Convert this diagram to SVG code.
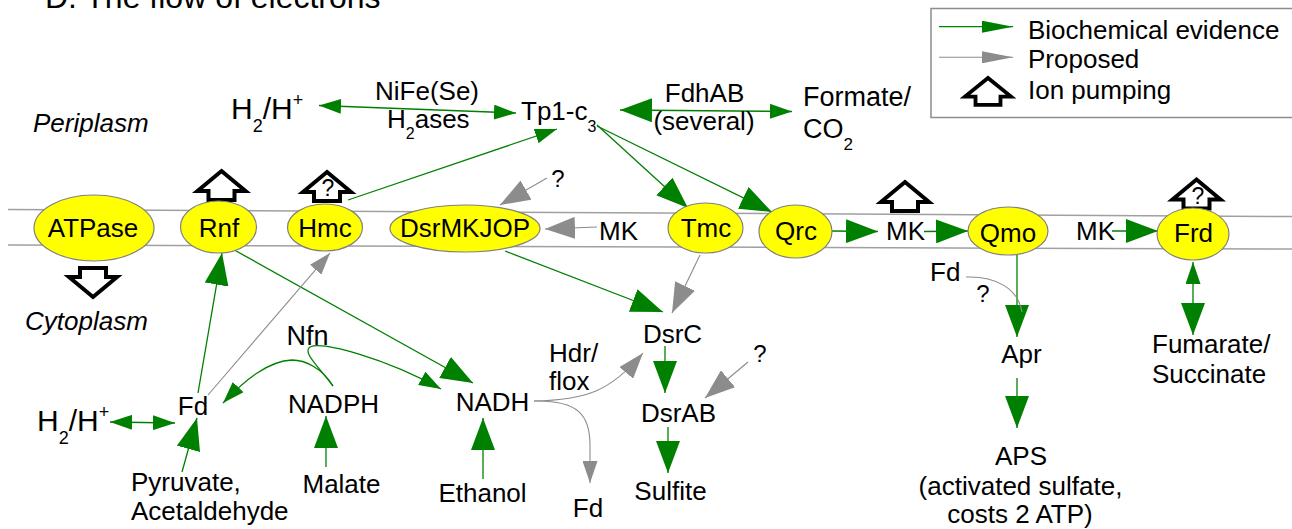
<svg xmlns="http://www.w3.org/2000/svg" width="1292" height="529" viewBox="0 0 1292 529">
  <style>
    text { font-family: "Liberation Sans", Arial, sans-serif; font-size: 26px; fill: #000; }
    .it { font-style: italic; }
    .mid { text-anchor: middle; }
    .q { font-size: 23px; text-anchor: middle; }
    .node { fill: #ffff00; stroke: #808080; stroke-width: 1.2; }
    .mem { stroke: #a0a0a0; stroke-width: 1.5; fill: none; }
    .ev { stroke: #008000; stroke-width: 1.3; fill: none; }
    .pr { stroke: #8c8c8c; stroke-width: 1.1; fill: none; }
    .pump { fill: #fff; stroke: #000; stroke-width: 4; stroke-linejoin: miter; }
  </style>
  <defs>
    <!-- green heads: large and small -->
    <marker id="gB" markerUnits="userSpaceOnUse" markerWidth="32" markerHeight="24" viewBox="0 0 32 24" refX="32" refY="12" orient="auto-start-reverse">
      <path d="M0,0 L32,12 L0,24 Z" fill="#008000"/>
    </marker>
    <marker id="gS" markerUnits="userSpaceOnUse" markerWidth="22" markerHeight="15" viewBox="0 0 22 15" refX="22" refY="7.5" orient="auto-start-reverse">
      <path d="M0,0 L22,7.5 L0,15 Z" fill="#008000"/>
    </marker>
    <!-- gray heads: large, medium and small -->
    <marker id="pB" markerUnits="userSpaceOnUse" markerWidth="30" markerHeight="22" viewBox="0 0 30 22" refX="30" refY="11" orient="auto">
      <path d="M0,0 L30,11 L0,22 Z" fill="#8c8c8c"/>
    </marker>
    <marker id="pM" markerUnits="userSpaceOnUse" markerWidth="26" markerHeight="18" viewBox="0 0 26 18" refX="26" refY="9" orient="auto">
      <path d="M0,0 L26,9 L0,18 Z" fill="#8c8c8c"/>
    </marker>
    <marker id="pS" markerUnits="userSpaceOnUse" markerWidth="22" markerHeight="15" viewBox="0 0 22 15" refX="22" refY="7.5" orient="auto">
      <path d="M0,0 L22,7.5 L0,15 Z" fill="#8c8c8c"/>
    </marker>
    <!-- legend heads -->
    <marker id="gL" markerUnits="userSpaceOnUse" markerWidth="31" markerHeight="12" viewBox="0 0 31 12" refX="31" refY="6" orient="auto">
      <path d="M0,0 L31,6 L0,12 Z" fill="#008000"/>
    </marker>
    <marker id="pL" markerUnits="userSpaceOnUse" markerWidth="31" markerHeight="12" viewBox="0 0 31 12" refX="31" refY="6" orient="auto">
      <path d="M0,0 L31,6 L0,12 Z" fill="#8c8c8c"/>
    </marker>
    <!-- open block arrow for ion pumping, apex at origin -->
    <path id="pumpShape" d="M0,0 L24,20 L13,20 L13,29 L-13,29 L-13,20 L-24,20 Z"/>
  </defs>

  <rect width="1292" height="529" fill="#fff"/>

  <text x="45" y="8" style="font-size:32px">D. The flow of electrons</text>

  <!-- legend -->
  <g id="legend">
    <rect x="931" y="8.5" width="370" height="109" fill="#fff" stroke="#8c8c8c" stroke-width="1.5"/>
    <path class="ev" d="M939,26.7 L1013,26.7" marker-end="url(#gL)"/>
    <text x="1028" y="39">Biochemical evidence</text>
    <path class="pr" d="M939,57.3 L1013,57.3" marker-end="url(#pL)"/>
    <text x="1028" y="68">Proposed</text>
    <use href="#pumpShape" class="pump" transform="translate(988,78) scale(0.96,0.93)"/>
    <text x="1028" y="99">Ion pumping</text>
  </g>

  <!-- membrane -->
  <g id="membrane">
    <path class="mem" d="M8,209.5 L1292,216.5"/>
    <path class="mem" d="M8,245 L1292,249"/>
  </g>

  <text class="it" x="33" y="132">Periplasm</text>
  <text class="it" x="25" y="330">Cytoplasm</text>

  <!-- connectors -->
  <g id="connectors">
    <path class="ev" d="M319,105.5 L516,113" marker-start="url(#gS)" marker-end="url(#gS)"/>
    <path class="ev" d="M620,110 L792,111.5" marker-start="url(#gB)" marker-end="url(#gS)"/>
    <path class="ev" d="M348,200 L557,129" marker-end="url(#gS)"/>
    <path class="ev" d="M597,125 L688,208" marker-end="url(#gB)"/>
    <path class="ev" d="M597,126 L772,212" marker-end="url(#gB)"/>
    <path class="pr" d="M547,178 L500,205" marker-end="url(#pB)"/>
    <path class="pr" d="M597,227 L545,229" marker-end="url(#pB)"/>
    <path class="ev" d="M832,231 L878,231.5" marker-end="url(#gB)"/>
    <path class="ev" d="M924,231.5 L968,231" marker-end="url(#gB)"/>
    <path class="ev" d="M1112,231 L1158,231" marker-end="url(#gB)"/>
    <path class="ev" d="M1193,262 L1193,335" marker-start="url(#gS)" marker-end="url(#gB)"/>
    <path class="ev" d="M1017,255 L1017,337" marker-end="url(#gB)"/>
    <path class="pr" d="M966,277 C995,276 1018,288 1022,312"/>
    <path class="ev" d="M1017,378 L1017,428" marker-end="url(#gB)"/>
    <path class="ev" d="M505,251 L663,312" marker-end="url(#gB)"/>
    <path class="pr" d="M700,255 L672,313" marker-end="url(#pB)"/>
    <path class="ev" d="M665,346 L665,393" marker-end="url(#gB)"/>
    <path class="ev" d="M668,427 L668,473" marker-end="url(#gB)"/>
    <path class="pr" d="M748,362 L705,398" marker-end="url(#pB)"/>
    <path class="pr" d="M534,401 C585,400 610,392 643,353" marker-end="url(#pM)"/>
    <path class="pr" d="M534,401 C578,400 590,415 590,445 L590,483" marker-end="url(#pS)"/>
    <path class="ev" d="M483,479 L483,418" marker-end="url(#gB)"/>
    <path class="ev" d="M229,247 L473,383" marker-end="url(#gB)"/>
    <path class="ev" d="M333,386 C318,366 302,352 310,347 C322,341 385,358 441,389" marker-end="url(#gS)"/>
    <path class="ev" d="M333,386 C322,368 305,360 292,360 C268,361 245,380 223,403" marker-end="url(#gS)"/>
    <path class="ev" d="M198,393 L222,253" marker-end="url(#gB)"/>
    <path class="pr" d="M208,395 L330,253" marker-end="url(#pS)"/>
    <path class="ev" d="M326,467 L326,416" marker-end="url(#gB)"/>
    <path class="ev" d="M182,472 L197,418" marker-end="url(#gB)"/>
    <path class="ev" d="M110,422 L175,423" marker-start="url(#gS)" marker-end="url(#gS)"/>
  </g>

  <!-- ion pumps -->
  <g id="pumps">
    <use href="#pumpShape" class="pump" transform="translate(93,297) scale(1,-1)"/>
    <use href="#pumpShape" class="pump" transform="translate(221.5,171)"/>
    <use href="#pumpShape" class="pump" transform="translate(327,172)"/>
    <use href="#pumpShape" class="pump" transform="translate(905,182)"/>
    <use href="#pumpShape" class="pump" transform="translate(1196.5,179.5)"/>
    <text class="q" x="328" y="196">?</text>
  </g>

  <!-- membrane complexes -->
  <g id="n-atpase"><ellipse class="node" cx="94" cy="228" rx="60" ry="33"/><text class="mid" x="93" y="237">ATPase</text></g>
  <g id="n-rnf"><ellipse class="node" cx="218.5" cy="227" rx="38" ry="26"/><text class="mid" x="219" y="237">Rnf</text></g>
  <g id="n-hmc"><ellipse class="node" cx="325" cy="227.5" rx="37.5" ry="23.5"/><text class="mid" x="325" y="237">Hmc</text></g>
  <g id="n-dsrmkjop"><ellipse class="node" cx="465" cy="228.5" rx="75" ry="23.5"/><text class="mid" x="465" y="237">DsrMKJOP</text></g>
  <g id="n-tmc"><ellipse class="node" cx="705.5" cy="228" rx="37.5" ry="25"/><text class="mid" x="706" y="237">Tmc</text></g>
  <g id="n-qrc"><ellipse class="node" cx="795.5" cy="231.5" rx="36.5" ry="26.5"/><text class="mid" x="796" y="240">Qrc</text></g>
  <g id="n-qmo"><ellipse class="node" cx="1008" cy="231" rx="40" ry="24"/><text class="mid" x="1008" y="241.5">Qmo</text></g>
  <g id="n-frd"><ellipse class="node" cx="1193" cy="234" rx="36" ry="26"/><text class="mid" x="1193.5" y="241.5">Frd</text><text class="q" x="1198" y="204">?</text></g>

  <!-- periplasmic species -->
  <g id="n-h2-top"><text x="231" y="119" style="font-size:30px">H<tspan style="font-size:18px" dy="13">2</tspan><tspan dy="-13">/H</tspan><tspan style="font-size:18px" dy="-13">+</tspan></text></g>
  <g id="l-nife"><text x="375" y="100">NiFe(Se)</text><text x="387" y="128">H<tspan style="font-size:16px" dy="11">2</tspan><tspan dy="-11">ases</tspan></text></g>
  <g id="n-tp1"><text x="521" y="120">Tp1-c<tspan style="font-size:16px" dy="12">3</tspan></text></g>
  <g id="l-fdh"><text class="mid" x="704.5" y="102">FdhAB</text><text class="mid" x="704" y="130">(several)</text></g>
  <g id="n-formate"><text x="803" y="106" style="font-size:27px">Formate/</text><text x="803" y="138" style="font-size:27px">CO<tspan style="font-size:17px" dy="12">2</tspan></text></g>

  <!-- quinone pool and unknown donors -->
  <g id="n-q1"><text class="mid" x="558" y="187" style="font-size:24px">?</text></g>
  <g id="n-mk1"><text x="599" y="240">MK</text></g>
  <g id="n-mk2"><text x="886" y="239.5">MK</text></g>
  <g id="n-mk3"><text x="1076" y="240">MK</text></g>

  <!-- cytoplasmic species -->
  <g id="n-h2-bottom"><text x="37" y="431" style="font-size:30px">H<tspan style="font-size:18px" dy="13">2</tspan><tspan dy="-13">/H</tspan><tspan style="font-size:18px" dy="-13">+</tspan></text></g>
  <g id="n-fd1"><text class="mid" x="193" y="415">Fd</text></g>
  <g id="n-pyruvate"><text x="131" y="491">Pyruvate,</text><text x="131" y="520">Acetaldehyde</text></g>
  <g id="n-nfn"><text class="mid" x="307.5" y="345" style="font-size:27px">Nfn</text></g>
  <g id="n-nadph"><text class="mid" x="333.5" y="413">NADPH</text></g>
  <g id="n-malate"><text class="mid" x="341.5" y="493">Malate</text></g>
  <g id="n-nadh"><text class="mid" x="492.5" y="411">NADH</text></g>
  <g id="n-ethanol"><text class="mid" x="482.5" y="501.5">Ethanol</text></g>
  <g id="l-hdr"><text x="549" y="362">Hdr/</text><text x="549" y="390">flox</text></g>
  <g id="n-fd2"><text class="mid" x="588" y="516.5">Fd</text></g>
  <g id="n-dsrc"><text class="mid" x="672.5" y="343">DsrC</text></g>
  <g id="n-q2"><text class="mid" x="760" y="361.5" style="font-size:24px">?</text></g>
  <g id="n-dsrab"><text class="mid" x="678.5" y="421.5">DsrAB</text></g>
  <g id="n-sulfite"><text class="mid" x="670.5" y="500">Sulfite</text></g>
  <g id="n-fd3"><text x="930" y="280.5">Fd</text><text class="mid" x="983" y="301.5" style="font-size:24px">?</text></g>
  <g id="n-apr"><text class="mid" x="1021.5" y="363">Apr</text></g>
  <g id="n-aps"><text class="mid" x="1021" y="465">APS</text><text class="mid" x="1020.5" y="495">(activated sulfate,</text><text class="mid" x="1020" y="523">costs 2 ATP)</text></g>
  <g id="n-fumarate"><text x="1152" y="353">Fumarate/</text><text x="1152" y="383">Succinate</text></g>
</svg>
